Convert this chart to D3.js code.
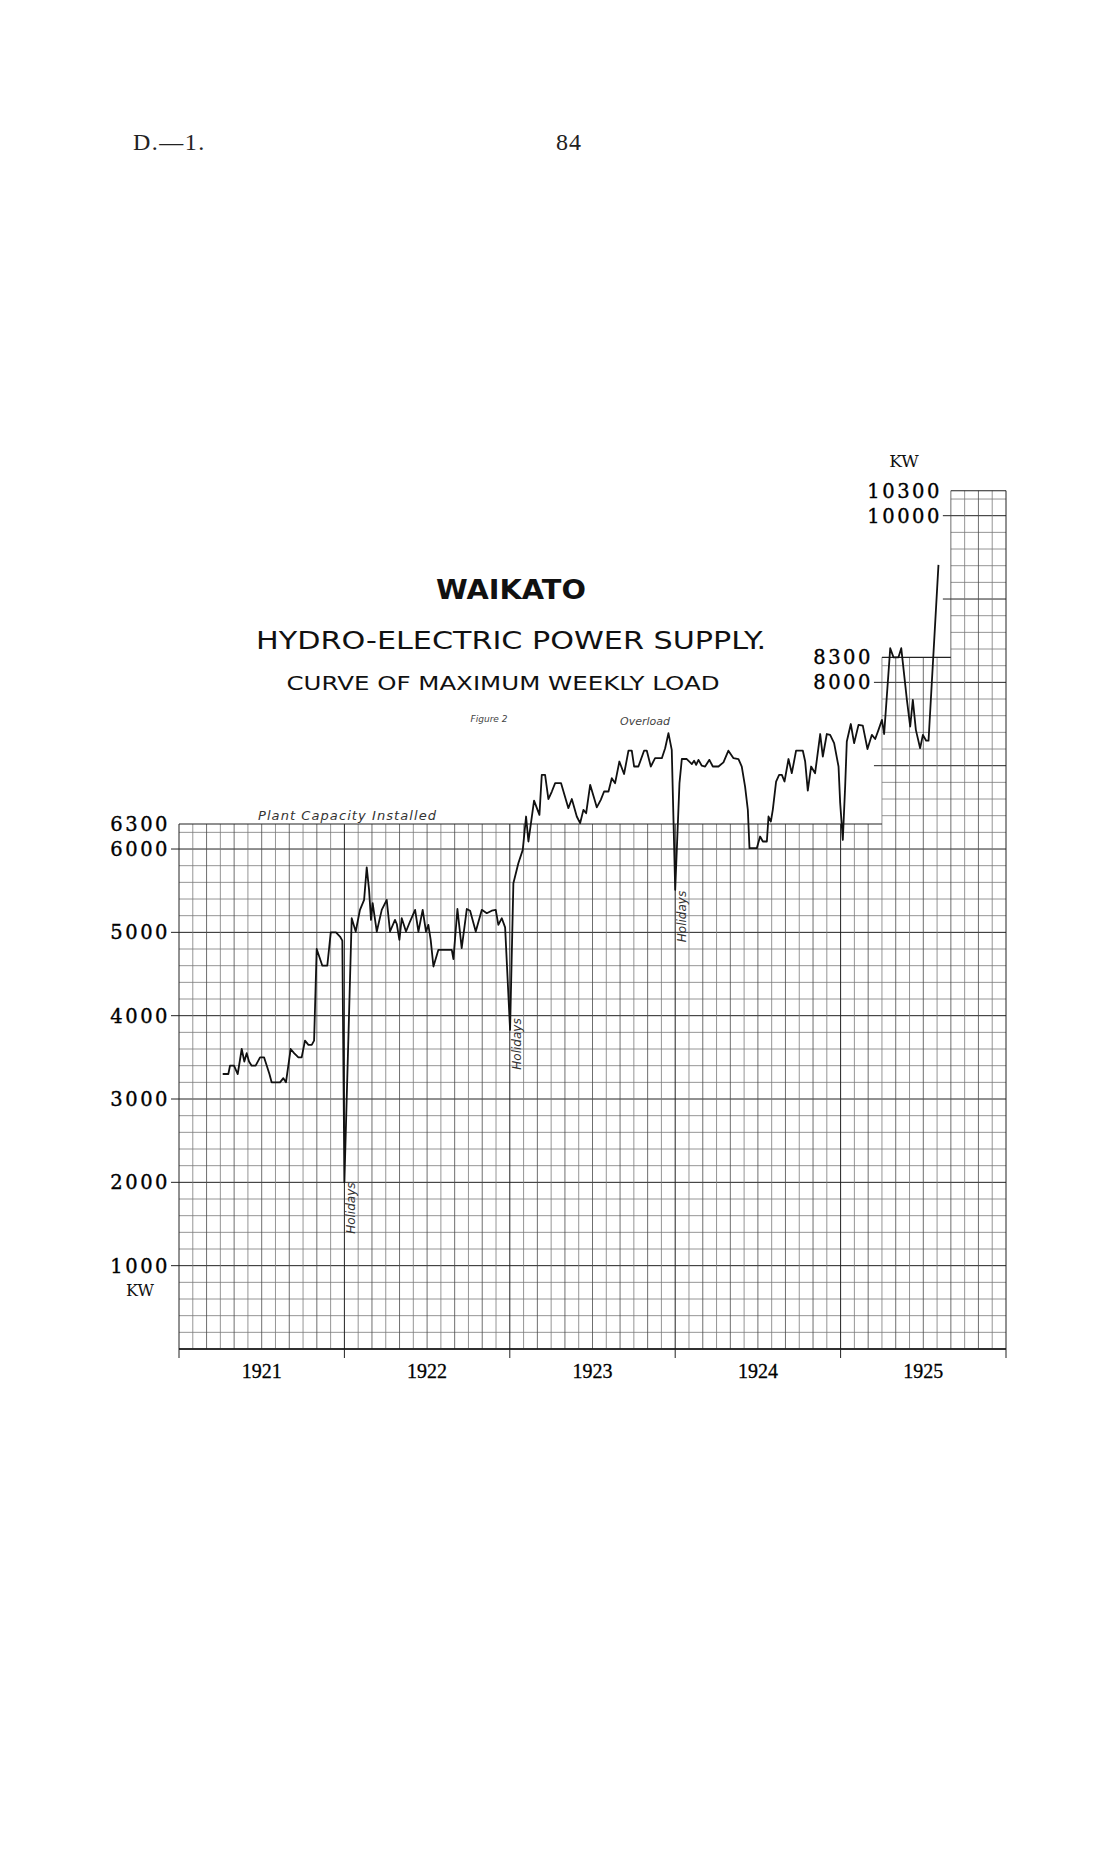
<!DOCTYPE html>
<html>
<head>
<meta charset="utf-8">
<script src="https://cdn.jsdelivr.net/npm/d3@7"></script>
<style>
  body { margin: 0; background: #fff; }
  svg { display: block; }
</style>
</head>
<body>
<div id="chart-area"></div>
<script>
// weekly maximum load, x = months counted from Jan 1921, y = kW
var loadMonth = [
    3.17, 3.58, 3.70, 3.99, 4.26, 4.55, 4.74, 4.91, 5.08, 5.27, 5.56, 5.88, 6.17, 6.56, 6.72, 7.33,
    7.57, 7.76, 8.10, 8.35, 8.66, 8.90, 9.14, 9.39, 9.63, 9.80, 9.99, 10.40, 10.76, 11.01, 11.39, 11.68,
    11.85, 12.00, 12.53, 12.82, 13.13, 13.43, 13.62, 13.79, 13.93, 14.05, 14.35, 14.71, 15.07, 15.31, 15.67, 15.80,
    15.99, 16.16, 16.47, 16.76, 17.13, 17.37, 17.68, 17.92, 18.09, 18.26, 18.46, 18.82, 19.79, 19.91, 20.20, 20.51,
    20.88, 21.12, 21.53, 21.97, 22.33, 22.69, 22.98, 23.17, 23.42, 23.66, 24.02, 24.26, 24.62, 24.94, 25.18, 25.35,
    25.76, 26.15, 26.32, 26.56, 26.80, 27.05, 27.29, 27.72, 28.25, 28.50, 28.86, 29.10, 29.34, 29.54, 29.83, 30.19,
    30.31, 30.60, 30.84, 31.16, 31.40, 31.64, 31.95, 32.29, 32.61, 32.85, 33.02, 33.33, 33.74, 33.94, 34.23, 34.54,
    35.03, 35.27, 35.51, 35.75, 36.00, 36.31, 36.48, 36.84, 37.21, 37.37, 37.52, 37.69, 37.93, 38.17, 38.48, 38.73,
    39.14, 39.50, 39.86, 40.23, 40.59, 40.83, 41.07, 41.27, 41.39, 41.92, 42.16, 42.36, 42.65, 42.77, 42.94, 43.08,
    43.32, 43.54, 43.74, 43.93, 44.22, 44.46, 44.77, 45.26, 45.43, 45.62, 45.86, 46.15, 46.52, 46.71, 47.00, 47.24,
    47.53, 47.85, 47.97, 48.16, 48.33, 48.45, 48.74, 48.98, 49.30, 49.61, 49.95, 50.27, 50.51, 50.75, 51.00, 51.16,
    51.60, 51.84, 52.20, 52.40, 52.81, 53.05, 53.24, 53.46, 53.77, 53.97, 54.21, 54.38, 55.10
]
var loadKW = [
    3300, 3300, 3400, 3400, 3300, 3600, 3450, 3550, 3450, 3400, 3400, 3500, 3500, 3300, 3200, 3200,
    3250, 3200, 3600, 3550, 3500, 3500, 3700, 3650, 3650, 3700, 4800, 4600, 4600, 5000, 5000, 4950,
    4900, 2000, 5170, 5010, 5270, 5390, 5780, 5510, 5150, 5350, 5010, 5270, 5390, 5010, 5150, 5100,
    4910, 5170, 5010, 5130, 5270, 5010, 5270, 5010, 5090, 4910, 4590, 4790, 4790, 4680, 5280, 4810,
    5280, 5260, 5010, 5270, 5230, 5260, 5270, 5090, 5170, 5060, 3830, 5590, 5830, 5990, 6390, 6090,
    6580, 6410, 6890, 6890, 6600, 6690, 6790, 6790, 6490, 6600, 6390, 6310, 6470, 6430, 6770, 6570,
    6500, 6590, 6690, 6690, 6850, 6790, 7050, 6900, 7180, 7180, 6990, 6990, 7180, 7180, 6990, 7090,
    7090, 7210, 7390, 7190, 5510, 6790, 7080, 7080, 7020, 7060, 7010, 7070, 7000, 6990, 7070, 6990,
    6990, 7040, 7180, 7090, 7080, 6990, 6750, 6470, 6010, 6010, 6150, 6090, 6090, 6390, 6330, 6470,
    6810, 6890, 6890, 6810, 7080, 6910, 7180, 7180, 7050, 6700, 6990, 6910, 7380, 7110, 7380, 7370,
    7270, 6990, 6550, 6110, 6750, 7290, 7500, 7270, 7490, 7480, 7200, 7370, 7320, 7430, 7550, 7380,
    8410, 8300, 8300, 8410, 7790, 7470, 7790, 7430, 7210, 7370, 7300, 7300, 9410
]

// years along the bottom, one label per 12 months
var yearLabels = ["1921", "1922", "1923", "1924", "1925"]

// stepped ceiling of the ruled paper
var sectionStart = [0, 51, 56]
var sectionEnd = [51, 56, 60]
var sectionTop = [6300, 8300, 10300]

// scale labels
var leftTicks = [6300, 6000, 5000, 4000, 3000, 2000, 1000]
var midTicks = [8300, 8000]
var rightTicks = [10300, 10000]

// the three christmas dips
var holidayMonth = [12.0, 24.02, 36.0]
var holidayLabelKW = [1690, 3660, 5190]

class LoadChart {
    constructor() {
        this.w = 1114
        this.h = 1849
        this.left = 179
        this.right = 1006
        this.bottom = 1349
        this.top = 490.7
        this.numFont = "'DejaVu Serif', serif"
        this.handFont = "'DejaVu Sans', sans-serif"
    }

    topAt(m) {
        //highest ceiling of any section touching this month
        var t = 0
        for (var i = 0; i < sectionStart.length; i++) {
            if (m >= sectionStart[i] && m <= sectionEnd[i]) t = Math.max(t, sectionTop[i])
        }
        return t
    }

    startFor(v) {
        for (var i = 0; i < sectionTop.length; i++) {
            if (v <= sectionTop[i]) return sectionStart[i]
        }
        return 60
    }

    draw() {
        var self = this
        var x = d3.scaleLinear().domain([0, 60]).range([this.left, this.right])
        var y = d3.scaleLinear().domain([0, 10300]).range([this.bottom, this.top])

        var svg = d3.select("#chart-area")
            .append("svg")
            .attr("width", this.w)
            .attr("height", this.h)
        svg.append("rect").attr("width", this.w).attr("height", this.h).attr("fill", "#fff")

        //page header
        svg.append("text").attr("x", 133).attr("y", 150)
            .attr("font-family", "'Liberation Serif', serif").attr("font-size", 24)
            .attr("letter-spacing", 1.5)
            .attr("fill", "#222").text("D.—1.")
        svg.append("text").attr("x", 569).attr("y", 150).attr("text-anchor", "middle")
            .attr("font-family", "'Liberation Serif', serif").attr("font-size", 24)
            .attr("letter-spacing", 1)
            .attr("fill", "#222").text("84")

        //titles
        var titles = [
            {t: "WAIKATO", cx: 511, y: 599, size: 26, len: 150, weight: "bold"},
            {t: "HYDRO-ELECTRIC POWER SUPPLY.", cx: 511, y: 649, size: 25, len: 510, weight: "normal"},
            {t: "CURVE OF MAXIMUM WEEKLY LOAD", cx: 503, y: 690, size: 19, len: 433, weight: "normal"}
        ]
        svg.selectAll(".title").data(titles).enter().append("text")
            .attr("class", "title")
            .attr("x", function (d) { return d.cx - d.len / 2 })
            .attr("y", function (d) { return d.y })
            .attr("textLength", function (d) { return d.len })
            .attr("lengthAdjust", "spacingAndGlyphs")
            .attr("font-family", "'DejaVu Sans', sans-serif")
            .attr("font-size", function (d) { return d.size })
            .attr("font-weight", function (d) { return d.weight })
            .attr("fill", "#111")
            .text(function (d) { return d.t })

        var grid = svg.append("g")

        //horizontal rulings every 200 kW
        var hVals = d3.range(0, 10300, 200)
        grid.selectAll(".hline").data(hVals).enter().append("line")
            .attr("class", "hline")
            .attr("x1", function (d) { return x(self.startFor(d)) })
            .attr("x2", x(60))
            .attr("y1", function (d) { return y(d) })
            .attr("y2", function (d) { return y(d) })
            .attr("stroke", function (d) { return d % 1000 == 0 ? "#222" : "#7a7a7a" })
            .attr("stroke-width", function (d) { return d % 1000 == 0 ? 1 : 0.8 })

        //vertical rulings every month
        var vVals = d3.range(0, 61)
        grid.selectAll(".vline").data(vVals).enter().append("line")
            .attr("class", "vline")
            .attr("x1", function (d) { return x(d) })
            .attr("x2", function (d) { return x(d) })
            .attr("y1", y(0))
            .attr("y2", function (d) { return y(self.topAt(d)) })
            .attr("stroke", function (d) { return d % 12 == 0 ? "#222" : (d % 2 == 0 ? "#4a4a4a" : "#7a7a7a") })
            .attr("stroke-width", function (d) { return d % 12 == 0 ? 1 : 0.8 })

        //stepped top edges
        grid.selectAll(".topline").data(sectionTop).enter().append("line")
            .attr("class", "topline")
            .attr("x1", function (d, i) { return x(sectionStart[i]) })
            .attr("x2", function (d, i) { return x(sectionEnd[i]) })
            .attr("y1", function (d) { return y(d) })
            .attr("y2", function (d) { return y(d) })
            .attr("stroke", "#222").attr("stroke-width", 1.1)

        //short ticks for each thousand
        var majors = d3.range(1000, 10001, 1000)
        grid.selectAll(".major").data(majors).enter().append("line")
            .attr("class", "major")
            .attr("x1", function (d) { return x(self.startFor(d)) - 8 })
            .attr("x2", function (d) { return x(self.startFor(d)) })
            .attr("y1", function (d) { return y(d) })
            .attr("y2", function (d) { return y(d) })
            .attr("stroke", "#222").attr("stroke-width", 1)

        //base line and year ticks
        grid.append("line")
            .attr("x1", x(0)).attr("x2", x(60)).attr("y1", y(0)).attr("y2", y(0))
            .attr("stroke", "#111").attr("stroke-width", 1.6)
        grid.selectAll(".ytick").data(d3.range(0, 61, 12)).enter().append("line")
            .attr("class", "ytick")
            .attr("x1", function (d) { return x(d) }).attr("x2", function (d) { return x(d) })
            .attr("y1", y(0)).attr("y2", y(0) + 9)
            .attr("stroke", "#222").attr("stroke-width", 1)

        svg.selectAll(".year").data(yearLabels).enter().append("text")
            .attr("class", "year")
            .attr("x", function (d, i) { return x(i * 12 + 6) })
            .attr("y", 1378)
            .attr("text-anchor", "middle")
            .attr("font-family", "'Liberation Serif', serif").attr("font-size", 20)
            .attr("fill", "#000").attr("stroke", "#000").attr("stroke-width", 0.3)
            .text(function (d) { return d })

        //value labels
        var tickSets = [
            {vals: leftTicks, at: 0},
            {vals: midTicks, at: 51},
            {vals: rightTicks, at: 56}
        ]
        tickSets.forEach(function (set) {
            svg.selectAll(null).data(set.vals).enter().append("text")
                .attr("x", x(set.at) - 9)
                .attr("y", function (d) { return y(d) + 7 })
                .attr("text-anchor", "end")
                .attr("font-family", self.numFont).attr("font-size", 19.5)
                .attr("letter-spacing", 2.5)
                .attr("fill", "#000").attr("stroke", "#000").attr("stroke-width", 0.35)
                .text(function (d) { return d })
        })
        svg.append("text").attr("x", 140).attr("y", 1296).attr("text-anchor", "middle")
            .attr("font-family", self.numFont).attr("font-size", 16).attr("fill", "#111").text("KW")
        svg.append("text").attr("x", 904).attr("y", 467).attr("text-anchor", "middle")
            .attr("font-family", self.numFont).attr("font-size", 17).attr("fill", "#111").text("KW")

        //handwritten notes
        svg.append("text").attr("x", 258).attr("y", 820)
            .attr("textLength", 178)
            .attr("font-family", this.handFont).attr("font-style", "italic")
            .attr("font-size", 13).attr("fill", "#333").text("Plant Capacity Installed")
        svg.append("text").attr("x", 489).attr("y", 722).attr("text-anchor", "middle")
            .attr("font-family", this.handFont).attr("font-style", "italic")
            .attr("font-size", 9).attr("fill", "#444").text("Figure 2")
        svg.append("text").attr("x", 645).attr("y", 725).attr("text-anchor", "middle")
            .attr("font-family", this.handFont).attr("font-style", "italic")
            .attr("font-size", 11).attr("fill", "#444").text("Overload")
        svg.selectAll(".holiday").data(holidayMonth).enter().append("text")
            .attr("class", "holiday")
            .attr("transform", function (d, i) {
                return "translate(" + (x(d) + 11) + "," + y(holidayLabelKW[i]) + ") rotate(-90)"
            })
            .attr("text-anchor", "middle")
            .attr("font-family", this.handFont).attr("font-style", "italic")
            .attr("font-size", 12).attr("fill", "#333")
            .text("Holidays")

        //the load curve itself
        var pts = loadMonth.map(function (m, i) { return [m, loadKW[i]] })
        var line = d3.line()
            .x(function (d) { return x(d[0]) })
            .y(function (d) { return y(d[1]) })
        svg.append("path")
            .datum(pts)
            .attr("d", line)
            .attr("fill", "none")
            .attr("stroke", "#111")
            .attr("stroke-width", 1.8)
            .attr("stroke-linejoin", "round")
    }
}

var chart = new LoadChart()
chart.draw()
</script>
</body>
</html>
